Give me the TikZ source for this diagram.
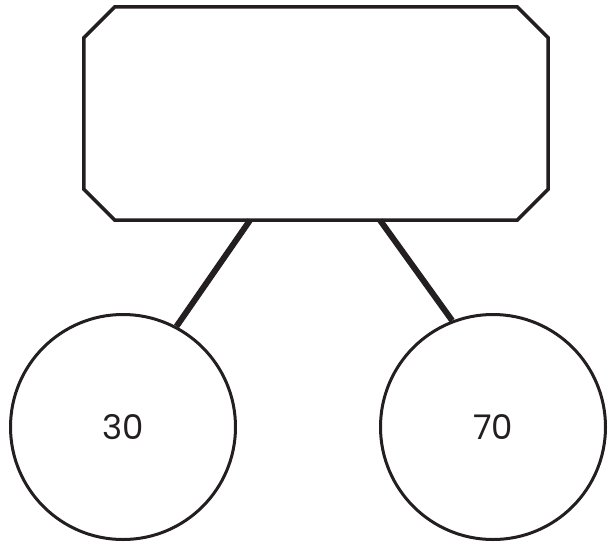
\documentclass[tikz,border=0pt]{standalone}
\usepackage{fontspec}
\setmainfont{Poppins}
\definecolor{ink}{HTML}{231F20}
\begin{document}
\begin{tikzpicture}[x=1pt,y=-1pt,
  boxshape/.style={rectangle, minimum width=464pt, minimum height=213pt, inner sep=0pt},
  octline/.style={draw=ink, line width=3.5pt, line join=miter},
  circ/.style={circle, draw=ink, line width=3pt, minimum size=225pt, inner sep=0pt,
     font=\fontsize{34}{40}\selectfont, text=ink},
  conn/.style={draw=ink, line width=6pt}]
\useasboundingbox (0,0) rectangle (608,542);
\node[boxshape] (box) at (316,113.5) {};
\draw[octline] ([xshift=31pt]box.north west) -- ([xshift=-31pt]box.north east)
  -- ([yshift=-31pt]box.north east) -- ([yshift=31pt]box.south east)
  -- ([xshift=-31pt]box.south east) -- ([xshift=31pt]box.south west)
  -- ([yshift=31pt]box.south west) -- ([yshift=-31pt]box.north west) -- cycle;
\node[circ] (L) at (123,427) {30};
\node[circ] (R) at (493,427) {70};
\draw[conn] ([xshift=-66pt]box.south) -- (L.62);
\draw[conn] ([xshift=64pt]box.south) -- (R.111);
\end{tikzpicture}
\end{document}
